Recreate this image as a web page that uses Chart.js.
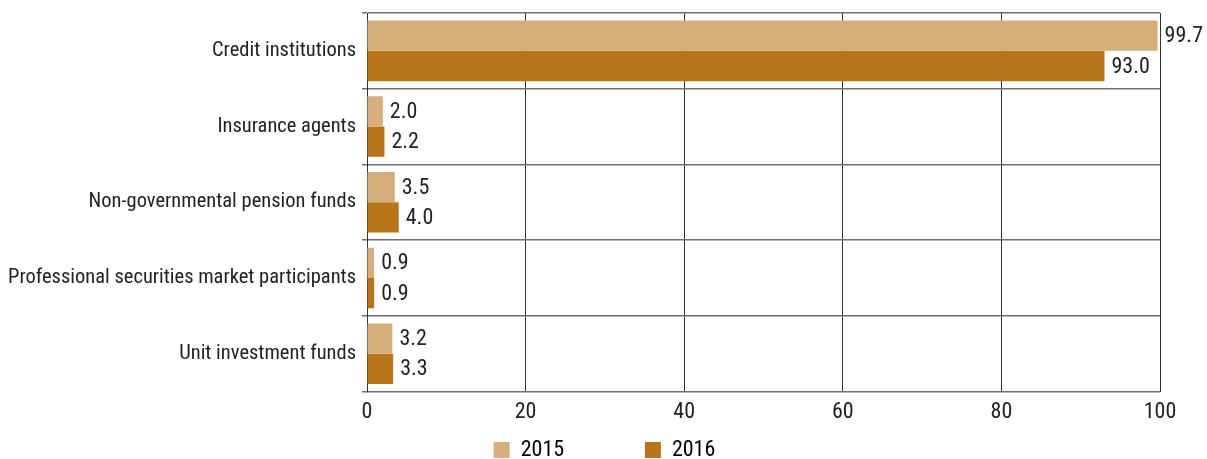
<!DOCTYPE html>
<html>
<head>
<meta charset="utf-8">
<script src="https://cdn.jsdelivr.net/npm/chart.js@4"></script>
<style>
  html, body { margin: 0; padding: 0; background: #fff; }
  #wrap { width: 1207px; height: 459px; }
</style>
</head>
<body>
<div id="wrap"><canvas id="chart"></canvas></div>
<script>
const categories = [
  "Credit institutions",
  "Insurance agents",
  "Non-governmental pension funds",
  "Professional securities market participants",
  "Unit investment funds"
];
const values2015 = [99.7, 2.0, 3.5, 0.9, 3.2];
const values2016 = [93.0, 2.2, 4.0, 0.9, 3.3];
const xTicks = [0, 20, 40, 60, 80, 100];

const FONT = "'Liberation Sans Narrow', 'Roboto Condensed', Roboto, sans-serif";
const colors = ["#D6AE7B", "#B8741A"];

// value labels at the end of each bar
const barLabels = {
  id: "barLabels",
  afterDatasetsDraw(chart) {
    const ctx = chart.ctx;
    ctx.save();
    ctx.font = "22px " + FONT;
    ctx.fillStyle = "#222";
    ctx.textAlign = "left";
    ctx.textBaseline = "middle";
    chart.data.datasets.forEach((ds, i) => {
      chart.getDatasetMeta(i).data.forEach((bar, j) => {
        ctx.fillText(ds.data[j].toFixed(1), bar.x + 7, bar.y + 1);
      });
    });
    ctx.restore();
  }
};

new Chart(document.getElementById("chart"), {
  type: "bar",
  plugins: [barLabels],
  data: {
    labels: categories,
    datasets: [
      { label: "2015", data: values2015, backgroundColor: colors[0], categoryPercentage: 0.8, barPercentage: 1.0 },
      { label: "2016", data: values2016, backgroundColor: colors[1], categoryPercentage: 0.8, barPercentage: 1.0 }
    ]
  },
  options: {
    indexAxis: "y",
    responsive: true,
    maintainAspectRatio: false,
    animation: false,
    layout: { padding: { top: 13, right: 0, left: 2, bottom: -12 } },
    scales: {
      x: {
        min: 0,
        max: 100,
        afterBuildTicks: axis => { axis.ticks = xTicks.map(v => ({ value: v })); },
        afterFit: axis => { axis.height += 5; },
        grid: { color: "#333", lineWidth: 1, drawTicks: false },
        border: { display: false },
        ticks: { color: "#222", font: { size: 22, family: FONT }, padding: 8 }
      },
      y: {
        afterFit: axis => { axis.width = 365; axis.paddingTop = 0; axis.paddingBottom = 0; },
        grid: { color: "#707070", lineWidth: 1.5, offset: true, tickLength: 5 },
        border: { color: "#333", width: 1 },
        ticks: { color: "#222", font: { size: 20.5, family: FONT }, padding: 6 }
      },
      // empty right-hand strip that leaves room for the 99.7 label
      spacer: {
        type: "linear",
        position: "right",
        grid: { display: false },
        border: { display: false },
        ticks: { display: false },
        afterFit: axis => { axis.width = 47; }
      }
    },
    plugins: {
      legend: {
        position: "bottom",
        labels: {
          color: "#222",
          font: { size: 22, family: FONT },
          boxWidth: 16,
          boxHeight: 16,
          padding: 0,
          // pad the first label so the items sit apart as in the source
          generateLabels: chart => chart.data.datasets.map((ds, i) => ({
            text: i === 0 ? ds.label + "                " : ds.label,
            fillStyle: ds.backgroundColor,
            strokeStyle: ds.backgroundColor,
            lineWidth: 0,
            datasetIndex: i
          }))
        }
      },
      tooltip: { enabled: false }
    }
  }
});
</script>
</body>
</html>
